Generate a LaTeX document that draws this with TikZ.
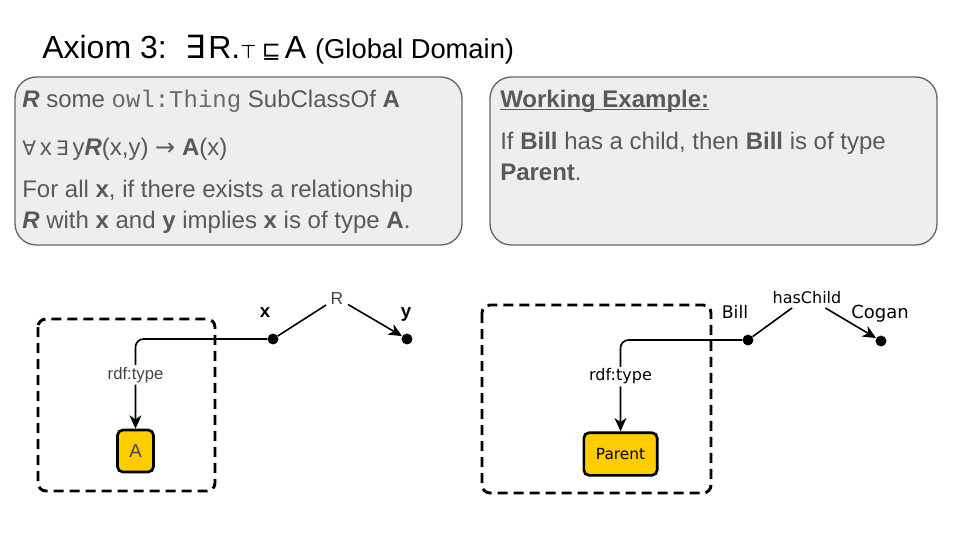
\documentclass[tikz,border=0pt]{standalone}
\usepackage{fontspec}
\setmainfont{Liberation Sans}
\setmonofont{Liberation Mono}
\newfontfamily\symfont{DejaVu Sans}
\newfontfamily\graphfont{DejaVu Sans}
\usetikzlibrary{arrows.meta,positioning}
\definecolor{txtgrey}{HTML}{595959}
\definecolor{monogrey}{HTML}{6A6A6A}
\definecolor{boxgrey}{HTML}{EEEEEE}
\definecolor{edgegrey}{HTML}{666666}
\definecolor{labelgrey}{HTML}{444444}
\definecolor{classgold}{HTML}{FFCC00}
\newcommand\bodysize{\fontsize{18}{21}\selectfont}
\newcommand\ulword[1]{\setbox0\hbox{#1}\rlap{\rule[-2.4pt]{\wd0}{1.1pt}}\box0}
\tikzset{
  infobox/.style={draw=edgegrey,fill=boxgrey,line width=1pt,rounded corners=16pt},
  boxtext/.style={anchor=base west,inner sep=0pt,text=txtgrey,font=\bodysize},
  scopebox/.style={draw,line width=2.2pt,rounded corners=6pt,dash pattern=on 7.5pt off 4.5pt},
  indiv/.style={circle,fill=black,inner sep=0pt,minimum size=8.2pt},
  classbox/.style={draw,line width=2pt,fill=classgold,rounded corners=4pt,inner sep=0pt},
  rel/.style={line width=1.2pt},
  relarrow/.style={rel,-{Stealth[length=10pt,width=9pt,inset=3pt]}},
  typelabel/.style={fill=white,inner sep=1.5pt}
}
\begin{document}
\begin{tikzpicture}[x=0.75pt,y=-0.75pt]
\useasboundingbox (0,0) rectangle (960,540);

\node[anchor=base west,inner sep=0pt] (title) at (42,58)
  {\fontsize{24}{28}\selectfont Axiom 3:\hspace{14pt}{\symfont ∃}\hspace{2pt}R.{\symfont\fontsize{14}{16}\selectfont ⊤}\hspace{4pt}{\symfont\fontsize{17}{18}\selectfont ⊑}\hspace{3pt}A {\fontsize{20.5}{22}\selectfont (Global Domain)}};

\draw[infobox] (15,77) rectangle (462,245);
\draw[infobox] (490,77) rectangle (937,245);

\node[boxtext] (rule1) at (22,107) {\textbf{\textit{R}} some {\ttfamily\color{monogrey}owl:Thing} SubClassOf \textbf{A}};
\node[boxtext] (rule2) at (22,155) {{\symfont\fontsize{15}{18}\selectfont ∀}\,x\,{\symfont\fontsize{15}{18}\selectfont ∃}\,y\textbf{\textit{R}}(x,y) {\symfont →} \textbf{A}(x)};
\node[boxtext] (rule3) at (22,197) {For all \textbf{x}, if there exists a relationship};
\node[boxtext] (rule4) at (22,228) {\textbf{\textit{R}} with \textbf{x} and \textbf{y} implies \textbf{x} is of type \textbf{A}.};

\node[boxtext] (ex1) at (500,107) {\ulword{\textbf{Working Example:}}};
\node[boxtext] (ex2) at (500,149) {If \textbf{Bill} has a child, then \textbf{Bill} is of type};
\node[boxtext] (ex3) at (500,180) {\textbf{Parent}.};

\draw[scopebox] (38,319) rectangle (215,491);
\node[classbox,minimum width=27pt,minimum height=31.5pt,text=labelgrey,font=\fontsize{14}{16}\selectfont] (A) at (135.5,451) {A};
\node[indiv] (x) at (273,339) {};
\node[indiv] (y) at (407,339) {};
\node[anchor=base,font=\bfseries\fontsize{14}{16}\selectfont] (xname) at (265,317) {x};
\node[anchor=base,font=\bfseries\fontsize{14}{16}\selectfont] (yname) at (406,317) {y};
\node[anchor=base,text=labelgrey,font=\fontsize{13}{15}\selectfont] (R) at (337,304) {R};
\draw[rel] (x) -- (R);
\draw[relarrow] (R) -- (y);
\draw[relarrow,rounded corners=6pt] (x) -| node[typelabel,pos=0.7,text=labelgrey,font=\fontsize{12.5}{14}\selectfont]{rdf:type} (A);

\draw[scopebox] (482,305) rectangle (711,493);
\node[classbox,minimum width=55pt,minimum height=32pt,font=\graphfont\fontsize{11.5}{14}\selectfont] (Parent) at (620.5,454) {Parent};
\node[indiv] (Bill) at (748,340) {};
\node[indiv] (Cogan) at (881,341) {};
\node[anchor=base,font=\graphfont\fontsize{13}{15}\selectfont] (billname) at (735,318) {Bill};
\node[anchor=base,font=\graphfont\fontsize{13.5}{15}\selectfont] (coganname) at (880,318) {Cogan};
\node[anchor=base,font=\graphfont\fontsize{12}{14}\selectfont] (hasChild) at (807,303) {hasChild};
\draw[rel] (Bill) -- (hasChild);
\draw[relarrow] (hasChild) -- (Cogan);
\draw[relarrow,rounded corners=6pt] (Bill) -| node[typelabel,pos=0.7,font=\graphfont\fontsize{12}{14}\selectfont]{rdf:type} (Parent);
\end{tikzpicture}
\end{document}
